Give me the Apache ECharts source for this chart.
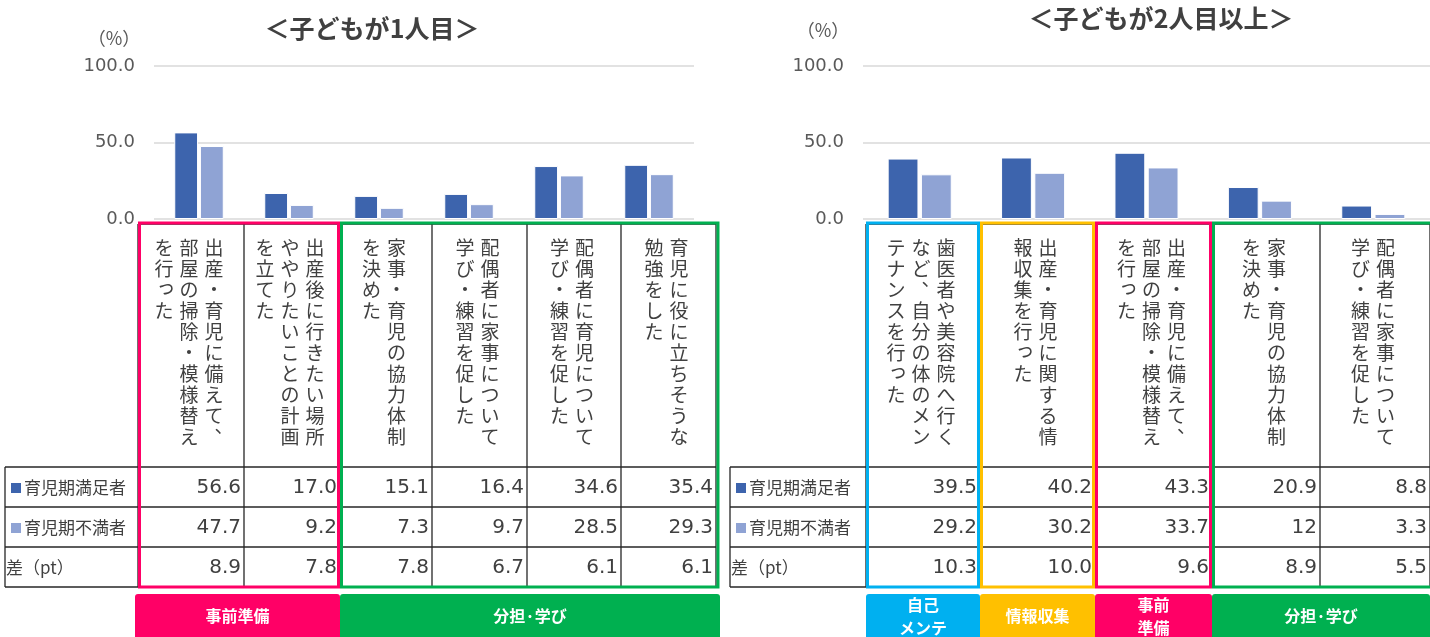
<!DOCTYPE html>
<html><head><meta charset="utf-8">
<script src="https://cdn.jsdelivr.net/npm/echarts@6/dist/echarts.min.js"></script>
<style>html,body{margin:0;padding:0;background:#fff}#c{width:1430px;height:637px}</style>
</head><body><div id="c"></div>
<script>
// ---------- data ----------
const seriesNames = ['育児期満足者', '育児期不満者'];
const diffLabel = '差（pt）';
const unitLabel = '（%）';
const leftTitle = '＜子どもが1人目＞';
const rightTitle = '＜子どもが2人目以上＞';
const yTicks = [0, 50, 100];

const leftCategories = [
  '出産・育児に備えて、部屋の掃除・模様替えを行った',
  '出産後に行きたい場所ややりたいことの計画を立てた',
  '家事・育児の協力体制を決めた',
  '配偶者に家事について学び・練習を促した',
  '配偶者に育児について学び・練習を促した',
  '育児に役に立ちそうな勉強をした'
];
const leftSatisfied   = ['56.6', '17.0', '15.1', '16.4', '34.6', '35.4'];
const leftUnsatisfied = ['47.7', '9.2', '7.3', '9.7', '28.5', '29.3'];
const leftDiff        = ['8.9', '7.8', '7.8', '6.7', '6.1', '6.1'];
const leftGroupNames  = ['事前準備', '分担·学び'];
const leftGroupSpans  = [[0, 1], [2, 5]];

const rightCategories = [
  '歯医者や美容院へ行くなど、自分の体のメンテナンスを行った',
  '出産・育児に関する情報収集を行った',
  '出産・育児に備えて、部屋の掃除・模様替えを行った',
  '家事・育児の協力体制を決めた',
  '配偶者に家事について学び・練習を促した'
];
const rightSatisfied   = ['39.5', '40.2', '43.3', '20.9', '8.8'];
const rightUnsatisfied = ['29.2', '30.2', '33.7', '12', '3.3'];
const rightDiff        = ['10.3', '10.0', '9.6', '8.9', '5.5'];
const rightGroupNames  = ['自己\nメンテ', '情報収集', '事前\n準備', '分担·学び'];
const rightGroupSpans  = [[0, 0], [1, 1], [2, 2], [3, 4]];

// ---------- style / layout ----------
const C_DARK = '#3D64AD', C_LIGHT = '#8FA3D4';
const C_PINK = '#FF0066', C_GREEN = '#00B050', C_BLUE = '#00B0F0', C_YELLOW = '#FFC000';
const TXT = '#404040', AX = '#595959', LINE = '#262626';
const CJK = '"Noto Sans CJK JP", "Noto Sans", sans-serif';
const NUM = '"DejaVu Sans", sans-serif';

const panels = [
  { title: leftTitle, titleX: 372, titleY: 28, unitX: 114, unitY: 38,
    cats: leftCategories, sat: leftSatisfied, uns: leftUnsatisfied, diff: leftDiff,
    gNames: leftGroupNames, gSpans: leftGroupSpans, gColors: [C_PINK, C_GREEN],
    gridLeft: 154, gridWidth: 540, catGap: '45%',
    edges: [138, 244, 340, 432, 527, 621, 716], labelX0: 5 },
  { title: rightTitle, titleX: 1161, titleY: 18, unitX: 823, unitY: 30,
    cats: rightCategories, sat: rightSatisfied, uns: rightUnsatisfied, diff: rightDiff,
    gNames: rightGroupNames, gSpans: rightGroupSpans, gColors: [C_BLUE, C_YELLOW, C_PINK, C_GREEN],
    gridLeft: 863, gridWidth: 567, catGap: '43.5%',
    edges: [866, 980, 1095, 1212, 1320, 1430], labelX0: 730 }
];

const HEAD_TOP = 224, ROWS = [467, 507, 547, 587];

const grids = [], xAxes = [], yAxes = [], series = [], graphic = [];

panels.forEach((p, pi) => {
  grids.push({ left: p.gridLeft, width: p.gridWidth, top: 66, height: 153 });
  xAxes.push({ type: 'category', gridIndex: pi, data: p.cats,
    axisLine: { show: false }, axisTick: { show: false }, axisLabel: { show: false } });
  yAxes.push({ type: 'value', gridIndex: pi, min: yTicks[0], max: yTicks[yTicks.length - 1],
    interval: yTicks[1] - yTicks[0],
    axisLine: { show: false }, axisTick: { show: false },
    axisLabel: { color: AX, fontSize: 18, fontFamily: NUM, margin: 19,
      formatter: v => v.toFixed(1) },
    splitLine: { lineStyle: { color: '#D9D9D9', width: 1.5 } } });
  [[p.sat, C_DARK], [p.uns, C_LIGHT]].forEach(([d, col], si) => {
    series.push({ type: 'bar', name: seriesNames[si], xAxisIndex: pi, yAxisIndex: pi,
      data: d, barGap: '8%', barCategoryGap: p.catGap,
      itemStyle: { color: col, borderColor: '#fff', borderWidth: 1 } });
  });

  // titles
  graphic.push({ type: 'text', style: { text: p.title, x: p.titleX, y: p.titleY,
    textAlign: 'center', textVerticalAlign: 'middle',
    font: 'bold 25px ' + CJK, fill: TXT } });
  graphic.push({ type: 'text', style: { text: unitLabel, x: p.unitX, y: p.unitY,
    textAlign: 'center', textVerticalAlign: 'middle', font: '18px ' + CJK, fill: AX } });

  const e = p.edges, last = e[e.length - 1];
  const L = (x1, y1, x2, y2) => graphic.push({ type: 'line',
    shape: { x1, y1, x2, y2 }, style: { stroke: LINE, lineWidth: 1.3 } });
  // table lines
  L(e[0], HEAD_TOP, last, HEAD_TOP);
  ROWS.forEach(y => L(p.labelX0, y, last, y));
  e.forEach(x => L(x, HEAD_TOP, x, ROWS[3]));
  L(p.labelX0, ROWS[0], p.labelX0, ROWS[3]);

  // vertical category text (one glyph per position, right-to-left columns)
  p.cats.forEach((cat, i) => {
    const chunks = [];
    for (let k = 0; k < cat.length; k += 10) chunks.push(cat.slice(k, k + 10));
    const cx = (e[i] + e[i + 1]) / 2 - 2, n = chunks.length;
    chunks.forEach((ch, j) => {
      const colX = cx + ((n - 1) / 2 - j) * 25;
      ch.split('').forEach((c, k) => {
        const punct = (c === '、' || c === '。');
        const small = 'っゃゅょ'.includes(c);
        graphic.push({ type: 'text', style: { text: c,
          x: colX + (punct ? 10 : small ? 2 : 0), y: 238 + k * 21 + (punct ? -11 : small ? -3 : 0),
          textAlign: 'center', textVerticalAlign: 'top',
          font: '19px ' + CJK, fill: TXT } });
      });
    });
  });

  // row labels
  [[seriesNames[0], C_DARK], [seriesNames[1], C_LIGHT], [diffLabel, null]].forEach(([t, col], r) => {
    const yc = (ROWS[r] + ROWS[r + 1]) / 2 + 1;
    let tx = p.labelX0 + 1;
    if (col) {
      graphic.push({ type: 'rect', shape: { x: p.labelX0 + 6, y: yc - 5, width: 10, height: 10 },
        style: { fill: col } });
      tx = p.labelX0 + 19;
    }
    graphic.push({ type: 'text', style: { text: t, x: tx, y: yc, textAlign: 'left',
      textVerticalAlign: 'middle', font: '17px ' + CJK, fill: TXT } });
  });

  // values
  [p.sat, p.uns, p.diff].forEach((arr, r) => {
    const yc = (ROWS[r] + ROWS[r + 1]) / 2 + 1;
    arr.forEach((v, i) => {
      graphic.push({ type: 'text', style: { text: v, x: e[i + 1] - 3, y: yc,
        textAlign: 'right', textVerticalAlign: 'middle', font: '20px ' + NUM, fill: TXT } });
    });
  });

  // group boxes and labels
  p.gSpans.forEach(([a, b], g) => {
    const isLast = b === p.cats.length - 1;
    const x0 = e[a] + 1.5, x1 = isLast ? e[b + 1] + 2 : e[b + 1] - 1.5;
    graphic.push({ type: 'rect', z: 10, shape: { x: x0, y: 223, width: x1 - x0, height: ROWS[3] - 223 },
      style: { fill: 'none', stroke: p.gColors[g], lineWidth: 3 } });
    const bx0 = (a === 0 && pi === 0) ? e[a] - 3 : e[a];
    const bx1 = isLast ? Math.min(e[b + 1] + 4, 1430) : e[b + 1];
    graphic.push({ type: 'rect', shape: { x: bx0, y: 594, width: bx1 - bx0, height: 50, r: [3, 3, 0, 0] },
      style: { fill: p.gColors[g] } });
    graphic.push({ type: 'text', z: 11, style: { text: p.gNames[g], x: (bx0 + bx1) / 2, y: 616,
      textAlign: 'center', textVerticalAlign: 'middle', font: 'bold 16px ' + CJK,
      lineHeight: 23, fill: '#fff' } });
  });
});

const chart = echarts.init(document.getElementById('c'), null, { renderer: 'canvas' });
chart.setOption({
  animation: false,
  backgroundColor: '#fff',
  grid: grids, xAxis: xAxes, yAxis: yAxes, series: series, graphic: graphic
});
</script>
</body></html>
